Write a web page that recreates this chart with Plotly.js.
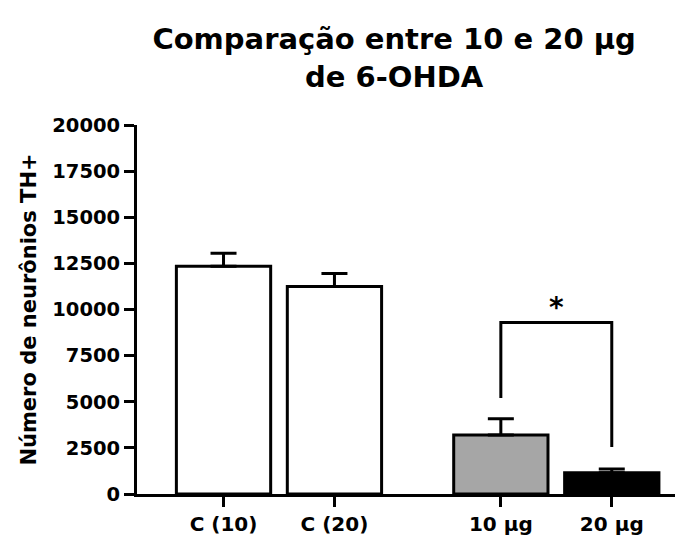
<!DOCTYPE html>
<html>
<head>
<meta charset="utf-8">
<script src="https://cdn.plot.ly/plotly-3.0.1.min.js"></script>
<style>html,body{margin:0;padding:0;background:#fff;}#chart{width:689px;height:543px;}</style>
</head>
<body>
<div id="chart"></div>
<script>
const categories = ["C (10)", "C (20)", "10 µg", "20 µg"];
const positions = [0, 1, 2.5, 3.5];
const means = [12350, 11250, 3200, 1150];
const sems = [700, 700, 880, 200];
const barColors = ["#ffffff", "#ffffff", "#a6a6a6", "#000000"];
const yTicks = [0, 2500, 5000, 7500, 10000, 12500, 15000, 17500, 20000];
const bracketX = [2.5, 2.5, 3.5, 3.5];
const bracketY = [5200, 9300, 9300, 2550];
const starLabel = "*";

const FONT = "DejaVu Sans, Liberation Sans, Arial, sans-serif";

const traces = [
  {
    type: "bar",
    x: positions,
    y: means,
    width: 0.85,
    marker: {color: barColors, line: {color: "#000", width: 3}},
    error_y: {type: "data", symmetric: false, array: sems, arrayminus: sems.map(() => 0),
              color: "#000", thickness: 3, width: 13},
    hoverinfo: "skip"
  },
  {
    type: "scatter",
    mode: "lines",
    x: bracketX,
    y: bracketY,
    line: {color: "#000", width: 3},
    hoverinfo: "skip"
  }
];

const layout = {
  width: 689, height: 543,
  paper_bgcolor: "#fff", plot_bgcolor: "#fff",
  showlegend: false,
  margin: {l: 137, r: 14, t: 125, b: 49},
  font: {family: FONT, color: "#000"},
  title: {
    text: "<b>Comparação entre 10 e 20 µg<br>de 6-OHDA</b>",
    font: {family: FONT, size: 29, color: "#000"},
    x: 0.572, xref: "container", xanchor: "center",
    y: 0.91, yref: "container", yanchor: "top"
  },
  xaxis: {
    range: [-0.78, 4.07],
    tickmode: "array", tickvals: positions, ticktext: categories.map(c => "<b>" + c + "</b>"),
    showline: true, linecolor: "#000", linewidth: 3,
    ticks: "outside", ticklen: 10, tickwidth: 3, tickcolor: "#000",
    tickfont: {family: FONT, size: 20, color: "#000"},
    showgrid: false, zeroline: false, fixedrange: true
  },
  yaxis: {
    range: [0, 20000],
    tickmode: "array", tickvals: yTicks, ticktext: yTicks.map(v => "<b>" + v + "</b>"),
    showline: true, linecolor: "#000", linewidth: 3,
    ticks: "outside", ticklen: 10, tickwidth: 3, tickcolor: "#000",
    tickfont: {family: FONT, size: 19.5, color: "#000"},
    showgrid: false, zeroline: false, fixedrange: true,
    title: {text: "<b>Número de neurônios TH+</b>", font: {family: FONT, size: 21, color: "#000"}, standoff: 10}
  },
  annotations: [
    {x: (bracketX[1] + bracketX[2]) / 2, y: bracketY[1], xref: "x", yref: "y",
     text: "<b>" + starLabel + "</b>", showarrow: false, yanchor: "bottom", yshift: -4,
     font: {family: FONT, size: 28, color: "#000"}}
  ]
};

Plotly.newPlot("chart", traces, layout, {displayModeBar: false, staticPlot: true});
</script>
</body>
</html>
